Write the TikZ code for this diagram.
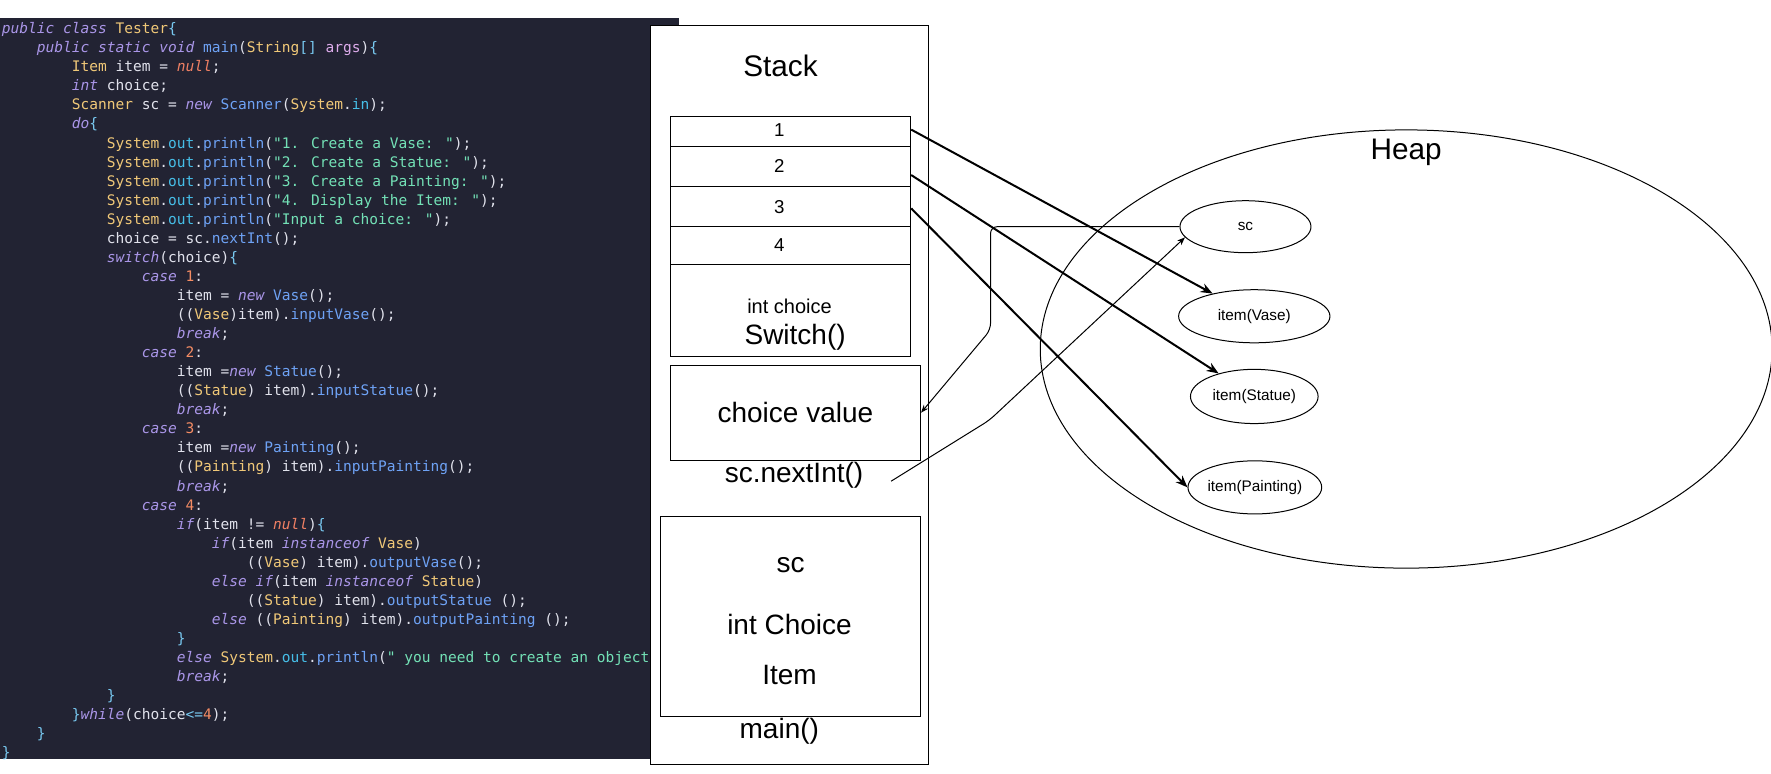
\documentclass[tikz,border=0pt]{standalone}
\usepackage{fontspec}
\setmainfont{Liberation Sans}
\newfontfamily\codefont{DejaVu Sans Mono}
\usetikzlibrary{arrows.meta,shapes.geometric}
\definecolor{codebg}{RGB}{34,35,51}
\definecolor{cplain}{RGB}{225,226,236}
\definecolor{ckw}{RGB}{170,150,232}
\definecolor{cty}{RGB}{240,200,120}
\definecolor{cfn}{RGB}{110,162,245}
\definecolor{cfd}{RGB}{70,190,232}
\definecolor{cstr}{RGB}{115,225,182}
\definecolor{cnum}{RGB}{245,140,100}
\definecolor{cnul}{RGB}{240,128,100}
\definecolor{cbrc}{RGB}{120,200,240}
\definecolor{carg}{RGB}{222,172,236}
\newcommand\upx{0.8472pt}
\newcommand\Kw[1]{{\color{ckw}\itshape #1}}
\newcommand\Ty[1]{{\color{cty}#1}}
\newcommand\Fn[1]{{\color{cfn}#1}}
\newcommand\Fd[1]{{\color{cfd}#1}}
\newcommand\Str[1]{{\color{cstr}#1}}
\newcommand\Num[1]{{\color{cnum}#1}}
\newcommand\Nul[1]{{\color{cnul}\itshape #1}}
\newcommand\Brc[1]{{\color{cbrc}#1}}
\newcommand\Arg[1]{{\color{carg}#1}}
\newcommand\codeln[3]{\node[codeline] (code#1) at (1.5,{26+(#1-1)*16.87}) {\hspace*{#2\fontcharwd\font`0}#3};}
\begin{document}
\begin{tikzpicture}[x=\upx,y=-\upx,
  codeline/.style={anchor=west,inner sep=0,font=\codefont\fontsize{10.9}{13}\selectfont,text=cplain,text height=8.7pt,text depth=2.2pt},
  box/.style={draw=black,line width=0.75pt,fill=white,inner sep=0},
  big/.style={line width=1.5pt,-{Stealth[length=9pt,width=7pt]}},
  small/.style={line width=0.75pt,-{Stealth[length=6pt,width=4.5pt]}},
  obj/.style={draw=black,ellipse,line width=0.75pt,inner sep=0,fill=white,font=\fontsize{11.5}{13}\selectfont},
  lbl/.style={inner sep=0,font=\fontsize{21}{24}\selectfont},
  title/.style={inner sep=0,font=\fontsize{22.3}{26}\selectfont},
  numl/.style={inner sep=0,font=\fontsize{14}{16}\selectfont}]
\useasboundingbox (0,0) rectangle (1568,684.4);
\fill[codebg] (0,16) rectangle (601,672);
\codeln{1}{0}{\Kw{public} \Kw{class} \Ty{Tester}\Brc{\{}}
\codeln{2}{4}{\Kw{public} \Kw{static} \Kw{void} \Fn{main}(\Ty{String}\Brc{[]} \Arg{args})\Brc{\{}}
\codeln{3}{8}{\Ty{Item} item = \Nul{null};}
\codeln{4}{8}{\Kw{int} choice;}
\codeln{5}{8}{\Ty{Scanner} sc = \Kw{new} \Fn{Scanner}(\Ty{System}.\Fd{in});}
\codeln{6}{8}{\Kw{do}\Brc{\{}}
\codeln{7}{12}{\Ty{System}.\Fd{out}.\Fn{println}(\Str{"1. Create a Vase: "});}
\codeln{8}{12}{\Ty{System}.\Fd{out}.\Fn{println}(\Str{"2. Create a Statue: "});}
\codeln{9}{12}{\Ty{System}.\Fd{out}.\Fn{println}(\Str{"3. Create a Painting: "});}
\codeln{10}{12}{\Ty{System}.\Fd{out}.\Fn{println}(\Str{"4. Display the Item: "});}
\codeln{11}{12}{\Ty{System}.\Fd{out}.\Fn{println}(\Str{"Input a choice: "});}
\codeln{12}{12}{choice = sc.\Fn{nextInt}();}
\codeln{13}{12}{\Kw{switch}(choice)\Brc{\{}}
\codeln{14}{16}{\Kw{case} \Num{1}:}
\codeln{15}{20}{item = \Kw{new} \Fn{Vase}();}
\codeln{16}{20}{((\Ty{Vase})item).\Fn{inputVase}();}
\codeln{17}{20}{\Kw{break};}
\codeln{18}{16}{\Kw{case} \Num{2}:}
\codeln{19}{20}{item =\Kw{new} \Fn{Statue}();}
\codeln{20}{20}{((\Ty{Statue}) item).\Fn{inputStatue}();}
\codeln{21}{20}{\Kw{break};}
\codeln{22}{16}{\Kw{case} \Num{3}:}
\codeln{23}{20}{item =\Kw{new} \Fn{Painting}();}
\codeln{24}{20}{((\Ty{Painting}) item).\Fn{inputPainting}();}
\codeln{25}{20}{\Kw{break};}
\codeln{26}{16}{\Kw{case} \Num{4}:}
\codeln{27}{20}{\Kw{if}(item != \Nul{null})\Brc{\{}}
\codeln{28}{24}{\Kw{if}(item \Kw{instanceof} \Ty{Vase})}
\codeln{29}{28}{((\Ty{Vase}) item).\Fn{outputVase}();}
\codeln{30}{24}{\Kw{else} \Kw{if}(item \Kw{instanceof} \Ty{Statue})}
\codeln{31}{28}{((\Ty{Statue}) item).\Fn{outputStatue} ();}
\codeln{32}{24}{\Kw{else} ((\Ty{Painting}) item).\Fn{outputPainting} ();}
\codeln{33}{20}{\Brc{\}}}
\codeln{34}{20}{\Kw{else} \Ty{System}.\Fd{out}.\Fn{println}(\Str{" you need to create an object}}
\codeln{35}{20}{\Kw{break};}
\codeln{36}{12}{\Brc{\}}}
\codeln{37}{8}{\Brc{\}}\Kw{while}(choice\Brc{<=}\Num{4});}
\codeln{38}{4}{\Brc{\}}}
\codeln{39}{0}{\Brc{\}}}
% stack
\node[box,minimum width=246*\upx,minimum height=654*\upx] (stack) at (699,350) {};
\node[title] (stacklbl) at (691,58) {Stack};
\node[box,minimum width=212.8*\upx,minimum height=26.6*\upx] (r1) at (699.9,116.6) {};
\node[box,minimum width=212.8*\upx,minimum height=35.2*\upx] (r2) at (699.9,147.5) {};
\node[box,minimum width=212.8*\upx,minimum height=35*\upx] (r3) at (699.9,182.6) {};
\node[box,minimum width=212.8*\upx,minimum height=34.5*\upx] (r4) at (699.9,217.35) {};
\node[box,minimum width=212.8*\upx,minimum height=80.6*\upx] (sw) at (699.9,274.9) {};
\node[numl] (n1) at (690,115) {1};
\node[numl] (n2) at (690,147) {2};
\node[numl] (n3) at (690,183) {3};
\node[numl] (n4) at (690,217) {4};
\node[inner sep=0,font=\fontsize{15}{18}\selectfont] (intc) at (699,271) {int choice};
\node[lbl] (swl) at (704,299) {Switch()};
\node[box,lbl,minimum width=221.5*\upx,minimum height=83.8*\upx] (choice) at (704.25,365.4) {choice value};
\node[lbl] (nextint) at (703,421) {sc.nextInt()};
\node[box,minimum width=230.4*\upx,minimum height=176.6*\upx] (mainbox) at (699.8,545.7) {};
\node[lbl] (msc) at (700,500) {sc};
\node[lbl] (mchoice) at (699,553) {int Choice};
\node[lbl] (mitem) at (699,598) {Item};
\node[lbl] (mainl) at (690,647) {main()};
% heap
\node[draw=black,ellipse,line width=0.75pt,inner sep=0,minimum width=648*\upx,minimum height=388*\upx] (heap) at (1245,309) {};
\node[title] (heaplbl) at (1245,135) {Heap};
\node[obj,minimum width=116*\upx,minimum height=46*\upx] (sc) at (1102.7,200.7) {sc};
\node[obj,minimum width=134*\upx,minimum height=47*\upx] (vase) at (1110.5,280) {item(Vase)};
\node[obj,minimum width=113*\upx,minimum height=48*\upx] (statue) at (1110.5,351) {item(Statue)};
\node[obj,minimum width=112*\upx,minimum height=47*\upx] (painting) at (1111,431.5) {item(Painting)};
% connectors
\draw[big] (r1.1.6) -- (vase);
\draw[big] (r2.-4.8) -- (statue);
\draw[big] (r3.-1.5) -- (painting.west);
\draw[small,rounded corners=5pt] (sc.west) -- (877,200.7) -- (877,292) -- (choice.east);
\coordinate (ni) at (789,426);
\draw[small,rounded corners=5pt] (ni) -- (876,372) -- (sc.190);
\end{tikzpicture}
\end{document}
